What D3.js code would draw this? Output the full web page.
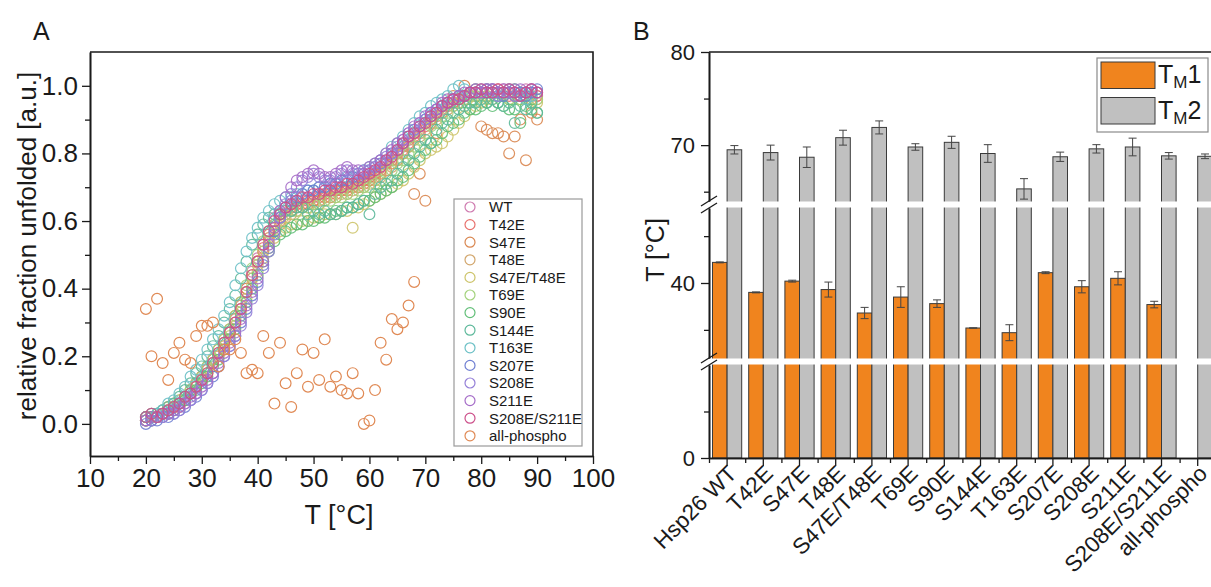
<!DOCTYPE html>
<html>
<head>
<meta charset="utf-8">
<script src="https://cdn.jsdelivr.net/npm/d3@7"></script>
<style>
  body { margin: 0; background: #fff; }
  svg { font-family: "Liberation Sans", Arial, sans-serif; }
</style>
</head>
<body>
<svg id="chart" width="1211" height="587"></svg>
<script>
// ---- panel A: melting curves (relative fraction unfolded vs T) ----
const tempC = [20,21,22,23,24,25,26,27,28,29,30,31,32,33,34,35,36,37,38,39,40,41,42,43,44,45,46,47,48,49,
  50,51,52,53,54,55,56,57,58,59,60,61,62,63,64,65,66,67,68,69,70,71,72,73,74,75,76,77,78,79,80,81,82,83,84,85,86,87,88,89,90];

const seriesNames = ["WT", "T42E", "S47E", "T48E", "S47E/T48E", "T69E", "S90E", "S144E", "T163E",
  "S207E", "S208E", "S211E", "S208E/S211E", "all-phospho"];
const seriesColors = ["#cf7bb0", "#e8706c", "#d9864f", "#d2a66c", "#cdc46a", "#a3d27c", "#62bf78",
  "#5cb89a", "#6cc0c6", "#6f7fd2", "#9580d8", "#a56cc8", "#cc4f8a", "#e08a55"];

const wt = [0.02,0.01,0.03,0.02,0.04,0.04,0.06,0.07,0.09,0.12, 0.13,0.16,0.18,0.21,0.24,0.27,0.31,0.35,0.40,0.45,
  0.49,0.53,0.57,0.61,0.63,0.64,0.65,0.66,0.66,0.67, 0.67,0.68,0.68,0.69,0.69,0.70,0.70,0.71,0.72,0.72,
  0.73,0.74,0.76,0.77,0.79,0.80,0.82,0.84,0.86,0.87, 0.89,0.90,0.92,0.93,0.94,0.95,0.96,0.97,0.97,0.98,
  0.98,0.98,0.99,0.98,0.99,0.98,0.97,0.98,0.99,0.98,0.97];
const t42e = [0.01,0.02,0.02,0.03,0.03,0.05,0.05,0.07,0.10,0.11, 0.14,0.15,0.19,0.20,0.23,0.27,0.30,0.34,0.39,0.43,
  0.48,0.52,0.56,0.59,0.62,0.63,0.64,0.65,0.65,0.66, 0.66,0.67,0.68,0.68,0.69,0.70,0.70,0.71,0.71,0.72,
  0.73,0.74,0.75,0.77,0.78,0.80,0.81,0.83,0.85,0.86, 0.88,0.89,0.91,0.92,0.94,0.95,0.95,0.96,0.97,0.97,
  0.98,0.97,0.98,0.99,0.98,0.97,0.98,0.97,0.98,0.96,0.97];
const s47e = [0.02,0.03,0.02,0.03,0.05,0.05,0.06,0.08,0.09,0.12, 0.14,0.17,0.19,0.22,0.25,0.28,0.32,0.36,0.40,0.44,
  0.48,0.51,0.55,0.58,0.60,0.62,0.63,0.64,0.64,0.65, 0.66,0.66,0.67,0.67,0.68,0.69,0.69,0.70,0.70,0.71,
  0.72,0.73,0.74,0.75,0.77,0.78,0.80,0.82,0.68,0.74, 0.66,0.90,0.86,0.94,0.95,0.97,0.96,1.00,0.98,0.99,
  0.88,0.87,0.86,0.86,0.85,0.80,0.85,0.90,0.78,0.92,0.90];
const t48e = [0.01,0.02,0.03,0.03,0.04,0.05,0.06,0.08,0.10,0.12, 0.13,0.16,0.19,0.21,0.24,0.27,0.31,0.35,0.39,0.43,
  0.47,0.51,0.54,0.57,0.59,0.61,0.62,0.63,0.64,0.64, 0.65,0.65,0.66,0.67,0.67,0.68,0.68,0.69,0.70,0.70,
  0.71,0.72,0.73,0.75,0.76,0.78,0.80,0.82,0.84,0.85, 0.87,0.89,0.90,0.92,0.93,0.94,0.96,0.97,0.97,0.98,
  0.98,0.99,0.98,0.98,0.97,0.98,0.99,0.97,0.98,0.97,0.96];
const s47et48e = [0.01,0.02,0.02,0.03,0.05,0.06,0.07,0.08,0.10,0.11, 0.13,0.15,0.18,0.20,0.23,0.26,0.29,0.33,0.37,0.41,
  0.45,0.49,0.52,0.55,0.57,0.58,0.59,0.59,0.60,0.60, 0.61,0.61,0.62,0.62,0.62,0.63,0.63,0.58,0.64,0.65,
  0.66,0.67,0.68,0.69,0.70,0.71,0.72,0.74,0.76,0.78, 0.80,0.81,0.82,0.83,0.85,0.87,0.89,0.91,0.93,0.94,
  0.95,0.96,0.96,0.97,0.97,0.96,0.97,0.96,0.97,0.96,0.95];
const t69e = [0.02,0.02,0.03,0.04,0.04,0.05,0.07,0.08,0.10,0.12, 0.14,0.17,0.19,0.22,0.25,0.28,0.32,0.36,0.41,0.46,
  0.50,0.54,0.57,0.59,0.61,0.62,0.63,0.63,0.64,0.64, 0.65,0.65,0.66,0.66,0.67,0.67,0.68,0.68,0.69,0.70,
  0.70,0.71,0.72,0.74,0.75,0.77,0.78,0.80,0.82,0.84, 0.86,0.88,0.89,0.91,0.92,0.94,0.95,0.96,0.97,0.97,
  0.98,0.97,0.98,0.97,0.98,0.96,0.97,0.96,0.97,0.95,0.96];
const s90e = [0.01,0.01,0.02,0.03,0.03,0.04,0.06,0.07,0.09,0.10, 0.12,0.14,0.17,0.19,0.22,0.25,0.28,0.32,0.36,0.40,
  0.44,0.48,0.51,0.54,0.56,0.57,0.58,0.59,0.59,0.60, 0.60,0.61,0.61,0.62,0.63,0.63,0.64,0.64,0.65,0.66,
  0.66,0.67,0.68,0.69,0.70,0.72,0.73,0.75,0.77,0.79, 0.81,0.83,0.84,0.86,0.88,0.89,0.90,0.92,0.93,0.93,
  0.94,0.95,0.94,0.95,0.94,0.93,0.93,0.89,0.94,0.93,0.92];
const s144e = [0.02,0.02,0.03,0.04,0.05,0.06,0.08,0.10,0.12,0.15, 0.17,0.20,0.23,0.26,0.30,0.34,0.38,0.43,0.48,0.53,
  0.56,0.59,0.61,0.62,0.62,0.63,0.63,0.64,0.64,0.62, 0.63,0.62,0.63,0.62,0.62,0.63,0.64,0.64,0.65,0.66,
  0.62,0.68,0.70,0.71,0.72,0.74,0.76,0.78,0.80,0.82, 0.84,0.83,0.87,0.89,0.90,0.92,0.93,0.94,0.95,0.95,
  0.96,0.95,0.96,0.95,0.94,0.95,0.89,0.94,0.93,0.95,0.92];
const t163e = [0.02,0.03,0.03,0.04,0.06,0.07,0.09,0.11,0.14,0.16, 0.19,0.22,0.25,0.28,0.32,0.36,0.41,0.46,0.51,0.55,
  0.58,0.61,0.63,0.65,0.66,0.67,0.67,0.68,0.68,0.69, 0.69,0.70,0.70,0.71,0.71,0.72,0.73,0.73,0.74,0.75,
  0.76,0.77,0.78,0.80,0.82,0.83,0.85,0.87,0.89,0.91, 0.92,0.94,0.95,0.96,0.97,0.99,1.00,0.99,0.98,0.99,
  0.98,0.99,0.98,0.97,0.98,0.99,0.97,0.98,0.96,0.97,0.98];
const s207e = [0.00,0.01,0.01,0.02,0.02,0.03,0.04,0.05,0.07,0.08, 0.10,0.12,0.14,0.17,0.20,0.23,0.26,0.30,0.34,0.38,
  0.42,0.47,0.52,0.57,0.61,0.64,0.66,0.67,0.68,0.69, 0.69,0.70,0.70,0.71,0.71,0.72,0.72,0.73,0.73,0.74,
  0.75,0.76,0.77,0.78,0.80,0.81,0.83,0.85,0.87,0.88, 0.90,0.91,0.93,0.94,0.95,0.96,0.97,0.97,0.98,0.98,
  0.99,0.98,0.99,0.98,0.97,0.98,0.99,0.98,0.97,0.98,0.99];
const s208e = [0.01,0.01,0.02,0.02,0.03,0.03,0.04,0.06,0.07,0.09, 0.10,0.12,0.15,0.17,0.20,0.23,0.26,0.29,0.33,0.37,
  0.41,0.46,0.51,0.56,0.61,0.65,0.68,0.70,0.72,0.73, 0.74,0.73,0.72,0.72,0.73,0.74,0.75,0.74,0.74,0.75,
  0.75,0.76,0.78,0.79,0.80,0.82,0.84,0.86,0.87,0.89, 0.90,0.92,0.93,0.94,0.95,0.96,0.97,0.97,0.98,0.98,
  0.98,0.99,0.98,0.97,0.98,0.99,0.98,0.97,0.98,0.99,0.98];
const s211e = [0.01,0.02,0.02,0.03,0.03,0.04,0.05,0.06,0.08,0.09, 0.11,0.13,0.15,0.18,0.21,0.24,0.27,0.31,0.35,0.39,
  0.43,0.48,0.53,0.58,0.63,0.67,0.70,0.72,0.73,0.74, 0.75,0.74,0.73,0.73,0.74,0.75,0.76,0.75,0.75,0.74,
  0.76,0.77,0.78,0.80,0.81,0.83,0.84,0.86,0.88,0.89, 0.91,0.92,0.93,0.95,0.96,0.96,0.97,0.98,0.98,0.99,
  0.98,0.99,0.99,0.98,0.99,0.98,0.97,0.99,0.98,0.99,0.98];
const s208es211e = [0.02,0.03,0.02,0.03,0.04,0.05,0.06,0.08,0.09,0.11, 0.13,0.15,0.18,0.21,0.24,0.27,0.30,0.34,0.39,0.44,
  0.48,0.53,0.57,0.60,0.62,0.64,0.65,0.66,0.67,0.67, 0.68,0.68,0.69,0.69,0.70,0.70,0.71,0.71,0.72,0.73,
  0.74,0.75,0.76,0.78,0.79,0.81,0.83,0.85,0.86,0.88, 0.89,0.91,0.92,0.94,0.95,0.96,0.96,0.97,0.98,0.98,
  0.99,0.98,0.98,0.99,0.98,0.99,0.98,0.97,0.98,0.99,0.98];

// all-phospho only measured 20-68 °C and is noisy
const phosphoTemp = [20,21,22,23,24,25,26,27,28,29,30,31,32,33,34,35,36,37,38,39,40,41,42,43,44,
  45,46,47,48,49,50,51,52,53,54,55,56,57,58,59,60,61,62,63,64,65,66,67,68];
const allPhospho = [0.34,0.20,0.37,0.18,0.13,0.21,0.24,0.19,0.18,0.26,0.29,0.29,0.30,0.17,0.22,
  0.22,0.25,0.21,0.15,0.16,0.15,0.26,0.21,0.06,0.24,0.12,0.05,0.15,0.22,0.11,0.21,0.13,0.25,0.11,
  0.14,0.10,0.09,0.15,0.09,0.00,0.01,0.10,0.24,0.19,0.31,0.28,0.30,0.35,0.42];

const curveValues = [wt, t42e, s47e, t48e, s47et48e, t69e, s90e, s144e, t163e, s207e, s208e, s211e, s208es211e];

// ---- panel B: melting temperatures ----
const mutants = ["Hsp26 WT", "T42E", "S47E", "T48E", "S47E/T48E", "T69E", "S90E", "S144E", "T163E",
  "S207E", "S208E", "S211E", "S208E/S211E", "all-phospho"];
const tm1 = [42.2, 39.0, 40.2, 39.3, 36.8, 38.5, 37.8, 35.2, 34.7, 41.1, 39.6, 40.5, 37.7, null];
const tm1Err = [0.05, 0.05, 0.1, 0.8, 0.6, 1.1, 0.4, 0.02, 0.85, 0.1, 0.65, 0.7, 0.35, null];
const tm2 = [69.5, 69.2, 68.7, 70.8, 71.9, 69.8, 70.3, 69.1, 65.3, 68.75, 69.6, 69.8, 68.85, 68.8];
const tm2Err = [0.45, 0.8, 1.1, 0.8, 0.7, 0.35, 0.65, 0.95, 1.1, 0.5, 0.45, 0.95, 0.35, 0.25];

const svg = d3.select("#chart");
const ink = "#1a1a1a";

// ================= panel A =================
const x = d3.scaleLinear().domain([10, 100]).range([90, 593]);
const y = d3.scaleLinear().domain([-0.095, 1.1]).range([456, 52]);

const panelA = svg.append("g");

panelA.append("g")
    .attr("transform", "translate(0,456)")
    .call(d3.axisBottom(x).tickValues(d3.range(10, 101, 10)).tickSize(8).tickSizeOuter(0).tickPadding(5));
panelA.append("g")
    .attr("transform", "translate(0,456)")
    .call(d3.axisBottom(x).tickValues(d3.range(15, 100, 10)).tickSize(5).tickSizeOuter(0).tickFormat(""));

panelA.append("g")
    .attr("transform", "translate(90,0)")
    .call(d3.axisLeft(y).tickValues([0, 0.2, 0.4, 0.6, 0.8, 1.0]).tickFormat(d3.format(".1f"))
        .tickSize(8).tickSizeOuter(0).tickPadding(4));
panelA.append("g")
    .attr("transform", "translate(90,0)")
    .call(d3.axisLeft(y).tickValues([0.1, 0.3, 0.5, 0.7, 0.9]).tickSize(5).tickSizeOuter(0).tickFormat(""));

panelA.selectAll(".domain").attr("stroke", ink).attr("stroke-width", 1.6);
panelA.selectAll(".tick line").attr("stroke", ink).attr("stroke-width", 1.3);
panelA.selectAll(".tick text").style("font-size", "26px").attr("fill", ink).style("font-family", "Liberation Sans, Arial, sans-serif");

// frame (top + right)
panelA.append("path")
    .attr("d", `M${x(10)},${y(1.1)}H${x(100)}V${y(-0.095)}`)
    .attr("fill", "none").attr("stroke", ink).attr("stroke-width", 1.6);

// scatter series
curveValues.forEach((vals, si) => {
    panelA.append("g").selectAll("circle")
        .data(vals)
        .enter().append("circle")
        .attr("cx", (d, i) => x(tempC[i]))
        .attr("cy", d => y(d))
        .attr("r", 5.4)
        .attr("fill", "none")
        .attr("stroke", seriesColors[si])
        .attr("stroke-width", 1.2)
        .attr("stroke-opacity", 0.9);
});
panelA.append("g").selectAll("circle")
    .data(allPhospho)
    .enter().append("circle")
    .attr("cx", (d, i) => x(phosphoTemp[i]))
    .attr("cy", d => y(d))
    .attr("r", 5.4)
    .attr("fill", "none")
    .attr("stroke", seriesColors[13])
    .attr("stroke-width", 1.2);

// legend
const legA = panelA.append("g");
legA.append("rect")
    .attr("x", 454).attr("y", 199).attr("width", 128).attr("height", 247)
    .attr("fill", "#fff").attr("stroke", "#9a9a9a").attr("stroke-width", 1.2);
seriesNames.forEach((name, i) => {
    const ly = 207 + i * 17.6;
    legA.append("circle").attr("cx", 470).attr("cy", ly).attr("r", 5)
        .attr("fill", "none").attr("stroke", seriesColors[i]).attr("stroke-width", 1.2);
    legA.append("text").attr("x", 489).attr("y", ly).attr("dy", "0.36em")
        .text(name).style("font-size", "15px").attr("fill", ink);
});

// titles
svg.append("text").text("A").attr("x", 33).attr("y", 40).style("font-size", "25px").attr("fill", ink);
svg.append("text").text("T [°C]").attr("x", 339).attr("y", 524)
    .attr("text-anchor", "middle").style("font-size", "27px").attr("fill", ink);
svg.append("text").text("relative fraction unfolded [a.u.]")
    .attr("transform", "translate(36,246) rotate(-90)")
    .attr("text-anchor", "middle").style("font-size", "26px").attr("fill", ink);

// ================= panel B =================
const xb = d3.scaleBand().domain(mutants).range([709, 709 + 14 * 36.2]);
const step = xb.step();
const barW = 14.6;

// broken y axis: three segments
const segs = [
    { scale: d3.scaleLinear().domain([64, 80]).range([201, 52]), major: [70, 80], minor: [65, 75] },
    { scale: d3.scaleLinear().domain([32, 48]).range([358, 208]), major: [40], minor: [35, 45] },
    { scale: d3.scaleLinear().domain([0, 10]).range([458, 365]), major: [0], minor: [5] }
];
function yB(v) {
    if (v >= 64) return segs[0].scale(v);
    if (v >= 32) return segs[1].scale(Math.min(v, 48));
    return segs[2].scale(Math.min(v, 10));
}

const panelB = svg.append("g");
const center = m => xb(m) + step / 2;

// bars
panelB.append("g").selectAll("rect")
    .data(mutants.filter((m, i) => tm1[i] != null))
    .enter().append("rect")
    .attr("x", m => center(m) - barW)
    .attr("y", m => yB(tm1[mutants.indexOf(m)]))
    .attr("width", barW)
    .attr("height", m => 458 - yB(tm1[mutants.indexOf(m)]))
    .attr("fill", "#f0841e").attr("stroke", "#3a3a3a").attr("stroke-width", 1);
panelB.append("g").selectAll("rect")
    .data(mutants)
    .enter().append("rect")
    .attr("x", m => center(m))
    .attr("y", (m, i) => yB(tm2[i]))
    .attr("width", barW)
    .attr("height", (m, i) => 458 - yB(tm2[i]))
    .attr("fill", "#c0c0c0").attr("stroke", "#3a3a3a").attr("stroke-width", 1);

// error bars
function errorBars(vals, errs, offset) {
    const g = panelB.append("g").attr("stroke", "#444").attr("stroke-width", 1);
    mutants.forEach((m, i) => {
        if (vals[i] == null) return;
        const cx = center(m) + offset;
        const y1 = yB(vals[i] + errs[i]), y2 = yB(vals[i] - errs[i]);
        g.append("line").attr("x1", cx).attr("x2", cx).attr("y1", y1).attr("y2", y2);
        g.append("line").attr("x1", cx - 4).attr("x2", cx + 4).attr("y1", y1).attr("y2", y1);
        g.append("line").attr("x1", cx - 4).attr("x2", cx + 4).attr("y1", y2).attr("y2", y2);
    });
}
errorBars(tm1, tm1Err, -barW / 2);
errorBars(tm2, tm2Err, barW / 2);

// white gaps for the axis breaks
const gaps = [[segs[0].scale(64), segs[1].scale(48)], [segs[1].scale(32), segs[2].scale(10)]];
gaps.forEach(g => {
    panelB.append("rect").attr("x", 709).attr("y", g[0] + 0.5).attr("width", 520).attr("height", g[1] - g[0] - 1)
        .attr("fill", "#fff");
});

// y axis segments
segs.forEach(s => {
    panelB.append("g").attr("class", "yseg").attr("transform", "translate(709,0)")
        .call(d3.axisLeft(s.scale).tickValues(s.major).tickSize(8).tickSizeOuter(0).tickPadding(6));
    panelB.append("g").attr("transform", "translate(709,0)")
        .call(d3.axisLeft(s.scale).tickValues(s.minor).tickSize(5).tickSizeOuter(0).tickFormat(""));
});

// break marks
gaps.forEach(g => {
    const mid = (g[0] + g[1]) / 2;
    [-3.5, 3.5].forEach(o => {
        panelB.append("line")
            .attr("x1", 701).attr("y1", mid + o + 5)
            .attr("x2", 717).attr("y2", mid + o - 5)
            .attr("stroke", ink).attr("stroke-width", 1.3);
    });
});

// x axis
const xAxisB = panelB.append("g").attr("transform", "translate(0,458)")
    .call(d3.axisBottom(xb).tickSize(8).tickSizeOuter(0));
xAxisB.selectAll(".tick text")
    .attr("x", null).attr("y", null).attr("dy", null)
    .attr("transform", "translate(11,17) rotate(-45)")
    .attr("text-anchor", "end");
const bounds = d3.scaleLinear().domain([0, 14]).range([709, 709 + 14 * 36.2]);
panelB.append("g").attr("transform", "translate(0,458)")
    .call(d3.axisBottom(bounds).tickValues(d3.range(0, 15)).tickSize(5).tickSizeOuter(0).tickFormat(""));

// top frame line
panelB.append("line").attr("x1", 709).attr("x2", 1211).attr("y1", 52).attr("y2", 52)
    .attr("stroke", ink).attr("stroke-width", 1.6);

panelB.selectAll(".domain").attr("stroke", ink).attr("stroke-width", 1.6);
panelB.selectAll(".tick line").attr("stroke", ink).attr("stroke-width", 1.3);
panelB.selectAll(".tick text").attr("fill", ink).style("font-family", "Liberation Sans, Arial, sans-serif");
xAxisB.selectAll(".tick text").style("font-size", "22.5px");
panelB.selectAll(".yseg .tick text").style("font-size", "22px");

// legend
const legB = panelB.append("g");
legB.append("rect").attr("x", 1097).attr("y", 58).attr("width", 111).attr("height", 74)
    .attr("fill", "#fff").attr("stroke", "#8a8a8a").attr("stroke-width", 1.2);
[["#f0841e", "1"], ["#c0c0c0", "2"]].forEach((d, i) => {
    const ly = 62 + i * 35.5;
    legB.append("rect").attr("x", 1101).attr("y", ly).attr("width", 54).attr("height", 26.5)
        .attr("fill", d[0]).attr("stroke", "#3a3a3a").attr("stroke-width", 1);
    const t = legB.append("text").attr("x", 1158).attr("y", ly + 21).style("font-size", "25px").attr("fill", ink);
    t.append("tspan").text("T");
    t.append("tspan").text("M").style("font-size", "17px").attr("dy", 5);
    t.append("tspan").text(d[1]).attr("dy", -5);
});

svg.append("text").text("B").attr("x", 633).attr("y", 40).style("font-size", "25px").attr("fill", ink);
svg.append("text").text("T [°C]")
    .attr("transform", "translate(664,250) rotate(-90)")
    .attr("text-anchor", "middle").style("font-size", "25px").attr("fill", ink);
</script>
</body>
</html>
